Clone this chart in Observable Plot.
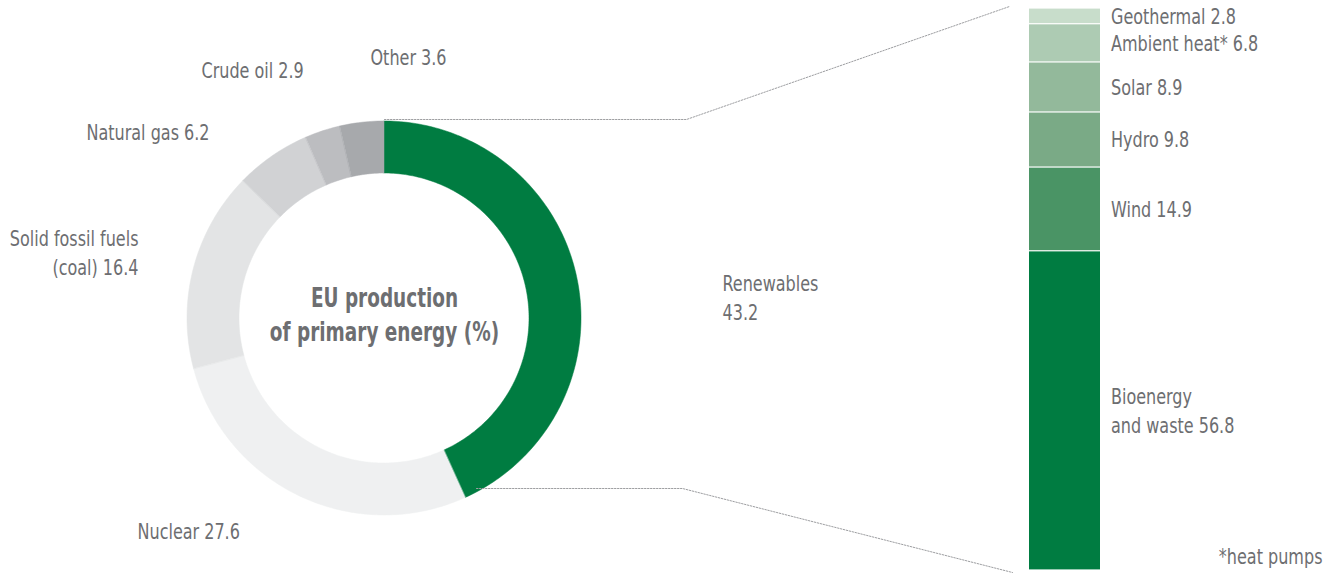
<!DOCTYPE html>
<html><head><meta charset="utf-8">
<script src="https://cdn.jsdelivr.net/npm/d3@7"></script>
<script src="https://cdn.jsdelivr.net/npm/@observablehq/plot@0.6"></script>
<style>
body{margin:0;background:#fff}
#chart{position:relative;width:1339px;height:574px;overflow:hidden}
#chart svg{position:absolute;left:0;top:0}
</style></head><body><div id="chart"></div>
<script>
// ---- data ----
const sources = ["Renewables", "Nuclear", "Solid fossil fuels (coal)", "Natural gas", "Crude oil", "Other"];
const shares = [43.2, 27.6, 16.4, 6.2, 2.9, 3.6];
const renewables = ["Bioenergy and waste", "Wind", "Hydro", "Solar", "Ambient heat*", "Geothermal"];
const renewableShares = [56.8, 14.9, 9.8, 8.9, 6.8, 2.8];
const title = "EU production\nof primary energy (%)";
const footnote = "*heat pumps";

// ---- styles / layout ----
const greyPalette = ["#007c41", "#eff0f1", "#e3e4e5", "#d1d2d4", "#bcbdc0", "#a7a9ac"];
const greenPalette = ["#007c41", "#4a9465", "#7aaa86", "#93b99b", "#adcbb3", "#c8ddcb"];
const textColor = "#6d6e71";
const font = "'Liberation Sans Narrow', 'DejaVu Sans Condensed', 'Roboto Condensed', sans-serif";
const labelSize = 22, labelSqueeze = 0.81;
const titleSize = 27, titleSqueeze = 0.76;
const W = 1339, H = 574;
const cx = 384, cy = 318, R = 197, r = 145;
// label anchors for donut labels (layout only)
const labelLayout = {
  "Renewables": {x: 722, y: 296, anchor: "start", text: "Renewables\n"},
  "Nuclear": {x: 137, y: 529, anchor: "start", text: "Nuclear "},
  "Solid fossil fuels (coal)": {x: 138, y: 251, anchor: "end", text: "Solid fossil fuels\n(coal) "},
  "Natural gas": {x: 86, y: 130, anchor: "start", text: "Natural gas "},
  "Crude oil": {x: 201, y: 68, anchor: "start", text: "Crude oil "},
  "Other": {x: 370, y: 55, anchor: "start", text: "Other "}
};
const barX0 = 1029, barX1 = 1100, barTop = 8, barBottom = 570;

// ---- donut geometry from data ----
const total = d3.sum(shares);
const arcPts = [];
let cum = 0;
sources.forEach((name, i) => {
  const a0 = cum / total * 2 * Math.PI;
  cum += shares[i];
  const a1 = cum / total * 2 * Math.PI;
  const n = Math.max(4, Math.ceil((a1 - a0) * 60));
  for (let k = 0; k <= n; k++) {
    const a = a0 + (a1 - a0) * k / n;
    arcPts.push({
      name,
      xo: cx + R * Math.sin(a), yo: cy - R * Math.cos(a),
      xi: cx + r * Math.sin(a), yi: cy - r * Math.cos(a)
    });
  }
});
const donutLabels = sources.map((name, i) => {
  const L = labelLayout[name];
  return {x: L.x, y: L.y, anchor: L.anchor, text: L.text + shares[i]};
});

const labelStyle = {fill: textColor, fontSize: labelSize, fontFamily: font, lineHeight: 1.33};

// ---- bar plot (renewables breakdown) ----
const barData = renewables.map((name, i) => ({name, value: renewableShares[i]}));
const barPlot = Plot.plot({
  width: W, height: H, margin: 0,
  style: {background: "transparent", overflow: "visible"},
  x: {type: "band", domain: ["Renewables"], range: [barX0, barX1], padding: 0, axis: null},
  y: {domain: [0, d3.sum(renewableShares)], range: [barBottom, barTop], axis: null},
  color: {domain: renewables, range: greenPalette},
  marks: [
    Plot.barY(barData, {x: () => "Renewables", y: "value", fill: "name", insetTop: 0.6, insetBottom: 0.6}),
    Plot.text(barData, Plot.stackY({
      x: () => "Renewables", y: "value",
      text: d => (d.name === "Bioenergy and waste" ? "Bioenergy\nand waste" : d.name) + " " + d.value,
      textAnchor: "start", dx: 46, dy: -2, ...labelStyle
    }))
  ]
});

const yb = barPlot.scale("y");
// ---- donut plot ----
const donutPlot = Plot.plot({
  width: W, height: H, margin: 0,
  style: {background: "transparent", overflow: "visible"},
  x: {domain: [0, W], range: [0, W], axis: null},
  y: {domain: [0, H], range: [0, H], axis: null},
  color: {domain: sources, range: greyPalette},
  marks: [
    Plot.area(arcPts, {x1: "xo", y1: "yo", x2: "xi", y2: "yi", z: "name", fill: "name", stroke: "name", strokeWidth: 0.5}),
    Plot.line([[cx, cy - R - 2], [686, cy - R - 2], [barX0 - 20, yb.apply(100) - 2]],
      {stroke: "#9d9ea1", strokeWidth: 1, strokeDasharray: "1.5,1.5"}),
    Plot.line([[476, 488], [682, 488], [barX0 - 17, yb.apply(0) + 2]],
      {stroke: "#9d9ea1", strokeWidth: 1, strokeDasharray: "1.5,1.5"}),
    Plot.text(donutLabels.filter(d => d.anchor === "start"), {x: "x", y: "y", text: "text", textAnchor: "start", ...labelStyle}),
    Plot.text(donutLabels.filter(d => d.anchor === "end"), {x: "x", y: "y", text: "text", textAnchor: "end", ...labelStyle}),
    Plot.text([title], {x: () => cx, y: () => cy - 5, text: d => d, textAnchor: "middle", fill: textColor, fontSize: titleSize, fontWeight: "bold", fontFamily: font, lineHeight: 1.26}),
    Plot.text([footnote], {x: () => 1322, y: () => 554, text: d => d, textAnchor: "end", ...labelStyle})
  ]
});

// narrow the glyphs to mimic the condensed typeface of the original
function squeeze(svg) {
  svg.querySelectorAll("text").forEach(t => {
    const g = t.closest("g");
    const k = g && g.getAttribute("font-weight") === "bold" ? titleSqueeze : labelSqueeze;
    t.setAttribute("transform", (t.getAttribute("transform") || "") + ` scale(${k},1)`);
  });
}
squeeze(donutPlot);
squeeze(barPlot);

const el = document.getElementById("chart");
el.appendChild(donutPlot);
el.appendChild(barPlot);
</script>
</body></html>
